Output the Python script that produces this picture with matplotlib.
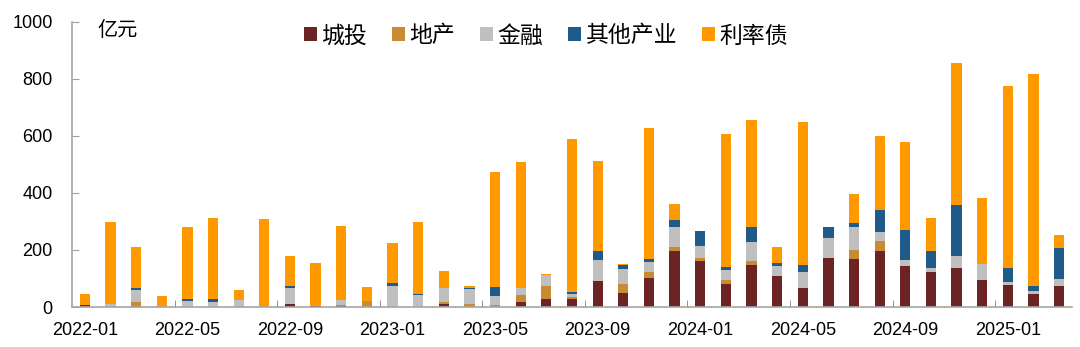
import matplotlib
matplotlib.use("Agg")
import matplotlib.pyplot as plt
import numpy as np
from matplotlib.patches import Patch

plt.rcParams['font.family'] = ['Liberation Sans', 'Noto Sans CJK SC', 'DejaVu Sans']

months = ['2022-01', '2022-02', '2022-03', '2022-04', '2022-05', '2022-06', '2022-07', '2022-08',
          '2022-09', '2022-10', '2022-11', '2022-12', '2023-01', '2023-02', '2023-03', '2023-04',
          '2023-05', '2023-06', '2023-07', '2023-08', '2023-09', '2023-10', '2023-11', '2023-12',
          '2024-01', '2024-02', '2024-03', '2024-04', '2024-05', '2024-06', '2024-07', '2024-08',
          '2024-09', '2024-10', '2024-11', '2024-12', '2025-01', '2025-02', '2025-03']

# 亿元
chengtou = [6, 0, 0, 0, 0, 0, 0, 0, 12, 2, 3, 0, 0, 0, 10, 0, 0, 18, 28, 28,
            91, 48, 103, 195, 163, 82, 149, 109, 67, 173, 168, 195, 143, 124, 137, 94, 78, 47, 73]
dichan = [2, 0, 18, 0, 0, 0, 0, 0, 0, 2, 4, 20, 0, 0, 7, 9, 8, 23, 47, 7,
          0, 32, 19, 17, 10, 12, 12, 0, 0, 0, 33, 35, 0, 0, 0, 0, 0, 0, 0]
jinrong = [0, 12, 40, 0, 20, 18, 26, 0, 56, 0, 18, 0, 75, 41, 50, 53, 29, 27, 37, 10,
           74, 54, 35, 69, 41, 37, 68, 34, 56, 70, 78, 33, 21, 14, 43, 58, 9, 8, 27]
qita = [0, 0, 7, 0, 9, 9, 0, 0, 6, 0, 0, 0, 10, 5, 0, 5, 32, 0, 0, 7,
        33, 12, 12, 25, 52, 8, 50, 12, 23, 38, 16, 76, 105, 57, 177, 0, 50, 20, 108]
lilv = [37, 285, 144, 38, 253, 285, 32, 310, 105, 152, 259, 50, 140, 251, 59, 6, 404, 442, 3, 538,
        315, 4, 458, 55, 0, 467, 377, 54, 502, 0, 100, 260, 309, 118, 498, 229, 638, 743, 46]

series = [
    ('城投', chengtou, '#6B2323'),
    ('地产', dichan, '#C98A33'),
    ('金融', jinrong, '#BFBFBF'),
    ('其他产业', qita, '#1F5B8A'),
    ('利率债', lilv, '#FF9900'),
]

x = np.arange(len(months))
fig = plt.figure(figsize=(10.8, 3.47), dpi=100)
ax = fig.add_axes([72 / 1080, 1 - 307 / 347, 1000 / 1080, 285 / 347])

bottom = np.zeros(len(months))
handles = []
for name, vals, color in series:
    vals = np.array(vals, dtype=float)
    ax.bar(x, vals, width=0.4, bottom=bottom, color=color, linewidth=0)
    bottom += vals
    handles.append(Patch(facecolor=color, label=name))

ax.set_xlim(-0.5, len(months) - 0.5)
ax.set_ylim(0, 1000)
ax.set_yticks(np.arange(0, 1001, 200))

ax.set_xticks(x[::4])
ax.set_xticklabels(months[::4])
ax.set_xticks(np.arange(3.5, len(months) - 1, 4), minor=True)
ax.tick_params(axis='x', which='major', length=0, pad=11, labelsize=13)
ax.tick_params(axis='x', which='minor', direction='in', length=5, color='#808080')
ax.tick_params(axis='y', direction='in', length=5, color='#A0A0A0', pad=14, labelsize=13)

for side in ['top', 'right']:
    ax.spines[side].set_visible(False)
for side in ['left', 'bottom']:
    ax.spines[side].set_color('#A6A6A6')
    ax.spines[side].set_linewidth(1.2)

ax.text(0.025, 0.972, '亿元', transform=ax.transAxes, fontsize=14.5, ha='left', va='center')

ax.legend(handles=handles, loc='center', bbox_to_anchor=(0.474, 0.951), ncol=5, frameon=False,
          fontsize=16.5, handlelength=0.55, handleheight=0.55, handletextpad=0.2,
          columnspacing=1.1, borderaxespad=0)

plt.savefig('out.png', dpi=100)
